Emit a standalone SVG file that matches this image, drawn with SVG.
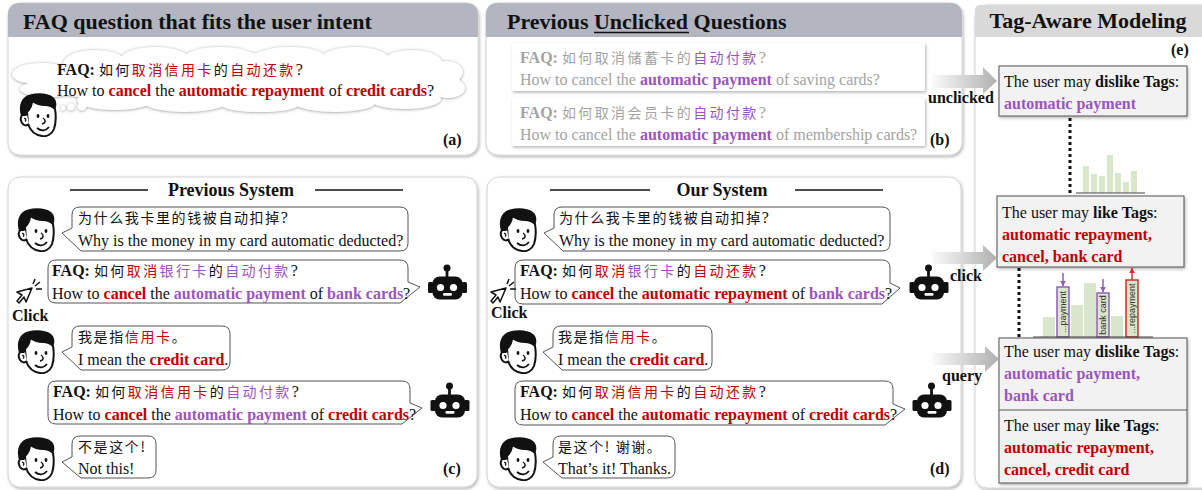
<svg xmlns="http://www.w3.org/2000/svg" width="1202" height="490" viewBox="0 0 1202 490">
<defs>
<style>
.t{font-family:"Liberation Serif","Times New Roman",serif;font-size:16px;fill:#111}
.h{font-family:"Liberation Serif","Times New Roman",serif;font-size:22px;font-weight:bold;fill:#111}
.st{font-family:"Liberation Serif","Times New Roman",serif;font-size:18px;font-weight:bold;fill:#111}
.b{font-weight:bold}
.r{fill:#c00000;font-weight:bold}
.p{fill:#9b55bd;font-weight:bold}
.g{fill:#a3a3a3}
.zq{font-family:"Noto Sans CJK SC",sans-serif;font-size:14px;letter-spacing:2.4px}
.zu{font-family:"Noto Sans CJK SC",sans-serif;font-size:14px;letter-spacing:1.6px}
.zr{fill:#c00000}
.zp{fill:#9b55bd}
.panel{fill:#fff;stroke:#d4d4d4;stroke-width:1}
.hdr{fill:#b3b5c0}
.bub{fill:#fff;stroke:#555;stroke-width:1}
.tag{fill:#f2f2f2;stroke:#555;stroke-width:1}
.bar{fill:#d8e6cc}
.dot{stroke:#111;stroke-width:3;stroke-dasharray:3 3;fill:none}
.lbl{font-family:"Liberation Sans",Arial,sans-serif;font-size:9px;fill:#333}
.rule{stroke:#111;stroke-width:1.6}
.blk{fill:url(#ag)}
</style>
<filter id="sh" x="-5%" y="-5%" width="112%" height="115%">
  <feDropShadow dx="1" dy="1.5" stdDeviation="1.6" flood-color="#000" flood-opacity="0.3"/>
</filter>
<filter id="cl" x="-5%" y="-20%" width="110%" height="140%">
  <feDropShadow dx="0" dy="0.5" stdDeviation="1.8" flood-color="#666" flood-opacity="0.7"/>
</filter>
<linearGradient id="ag" x1="0" y1="0" x2="1" y2="0">
  <stop offset="0" stop-color="#fafafa"/>
  <stop offset="1" stop-color="#b0b0b0"/>
</linearGradient>
<marker id="mp" viewBox="0 0 10 10" refX="9" refY="5" markerWidth="4" markerHeight="4" orient="auto">
  <path d="M0,0 L10,5 L0,10 Z" fill="#8e5fb5"/>
</marker>
<marker id="mr" viewBox="0 0 10 10" refX="9" refY="5" markerWidth="4" markerHeight="4" orient="auto">
  <path d="M0,0 L10,5 L0,10 Z" fill="#d03030"/>
</marker>
<!-- cartoon user head -->
<symbol id="face" viewBox="0 0 40 44">
  <path d="M9,19 C12,16 14,12 14,8 C17,10 22,12 27,12 C30,12 34,13 37,16 C38,22 38,30 36,36 C34,41 29,44 24,43 C17,42 12,37 10,31 Z" fill="#fff" stroke="#111" stroke-width="2"/>
  <path d="M9,22 C4,19 1,25 4,30 C6,33 9,33 11,31" fill="#fff" stroke="#111" stroke-width="2"/>
  <path d="M6,25.5 C8,25 8.5,27.5 7,28.5" fill="none" stroke="#111" stroke-width="1.3"/>
  <path d="M3,23 C0,13 3,4 12,1.5 C20,-0.5 30,0 35,4 C39,7 39,13 37,17 C34,13 30,12 27,12 C22,12 17,10 14,8 C14,12 12,16 9,19 L8,23 Z" fill="#111"/>
  <ellipse cx="20" cy="23" rx="1.4" ry="2.1" fill="#111"/>
  <ellipse cx="30" cy="23" rx="1.4" ry="2.1" fill="#111"/>
  <path d="M25,25 C28,27 28,30 24,31" fill="none" stroke="#111" stroke-width="1.5"/>
  <path d="M19,35 C23,38.5 28,38 31,34" fill="none" stroke="#111" stroke-width="1.8"/>
</symbol>
<!-- chatbot head -->
<symbol id="bot" viewBox="0 0 39 38">
  <circle cx="19" cy="4" r="3.5" fill="#111"/>
  <rect x="17.6" y="5" width="2.8" height="9" fill="#111"/>
  <rect x="4.5" y="12.5" width="30" height="23" rx="7" fill="#111"/>
  <rect x="0" y="18" width="5.5" height="11" rx="1.5" fill="#111"/>
  <rect x="33.5" y="18" width="5.5" height="11" rx="1.5" fill="#111"/>
  <circle cx="12.5" cy="23.5" r="3.6" fill="#fff"/>
  <circle cx="25.5" cy="23.5" r="3.6" fill="#fff"/>
  <rect x="15" y="29" width="9" height="2.8" rx="1.2" fill="#fff"/>
</symbol>
<!-- mouse pointer with click rays -->
<g id="cursor">
  <path d="M18,11 L3,15 L8,18 L3,24 L5,26 L10,20 L12,25 Z" fill="#fff" stroke="#111" stroke-width="1.5" stroke-linejoin="round"/>
  <path d="M19,7 L21,2 M21,9 L26,5 M22,12 L28,12" stroke="#111" stroke-width="1.5" fill="none"/>
</g>
<g id="cloud">
  <ellipse cx="245" cy="80" rx="215" ry="27"/>
  <ellipse cx="95" cy="64" rx="32" ry="14"/>
  <ellipse cx="155" cy="59" rx="34" ry="12"/>
  <ellipse cx="220" cy="58" rx="36" ry="11"/>
  <ellipse cx="290" cy="58" rx="36" ry="11"/>
  <ellipse cx="355" cy="59" rx="34" ry="12"/>
  <ellipse cx="412" cy="63" rx="30" ry="13"/>
  <ellipse cx="445" cy="72" rx="18" ry="11"/>
  <ellipse cx="42" cy="74" rx="30" ry="11"/>
  <ellipse cx="48" cy="89" rx="28" ry="8"/>
  <ellipse cx="115" cy="100" rx="38" ry="10"/>
  <ellipse cx="185" cy="103" rx="40" ry="9"/>
  <ellipse cx="260" cy="104" rx="40" ry="8"/>
  <ellipse cx="335" cy="103" rx="40" ry="9"/>
  <ellipse cx="405" cy="99" rx="36" ry="10"/>
  <ellipse cx="448" cy="88" rx="17" ry="10"/>
  <circle cx="63" cy="108" r="2.5"/>
  <circle cx="71" cy="107" r="3.5"/>
  <circle cx="82" cy="106" r="4.5"/>
</g>
</defs>

<rect width="1202" height="490" fill="#fff"/>

<!-- (a) FAQ that fits the intent -->
<g id="panel-a">
  <rect class="panel" x="8" y="3" width="470" height="152" rx="12" filter="url(#sh)"/>
  <path class="hdr" d="M8,37 V15 Q8,3 20,3 H466 Q478,3 478,15 V37 Z"/>
  <text class="h" x="23" y="29">FAQ question that fits the user intent</text>
  <use href="#cloud" fill="#fff" filter="url(#cl)"/>
  <text class="t" x="57" y="75"><tspan class="b">FAQ:</tspan> <tspan class="zq">如何<tspan class="zr">取消信用卡</tspan>的<tspan class="zr">自动还款</tspan></tspan>?</text>
  <text class="t" x="57" y="96">How to <tspan class="r">cancel</tspan> the <tspan class="r">automatic repayment</tspan> of <tspan class="r">credit cards</tspan>?</text>
  <use href="#face" x="18" y="93" width="40" height="44"/>
  <text class="t b" x="443" y="145">(a)</text>
</g>

<!-- (b) previously unclicked FAQs -->
<g id="panel-b">
  <rect class="panel" x="486" y="3" width="476" height="152" rx="12" filter="url(#sh)"/>
  <path class="hdr" d="M486,37 V15 Q486,3 498,3 H950 Q962,3 962,15 V37 Z"/>
  <text class="h" x="507" y="29">Previous Unclicked Questions</text>
  <line x1="594" y1="32.5" x2="689" y2="32.5" stroke="#111" stroke-width="1.5"/>
  <rect x="512" y="43" width="413" height="48" fill="#fff" filter="url(#sh)"/>
  <text class="t g" x="520" y="63"><tspan class="b">FAQ:</tspan> <tspan class="zq">如何取消储蓄卡的<tspan class="zp">自动付款</tspan></tspan>?</text>
  <text class="t g" x="520" y="85">How to cancel the <tspan class="p">automatic payment</tspan> of saving cards?</text>
  <rect x="512" y="98" width="413" height="48" fill="#fff" filter="url(#sh)"/>
  <text class="t g" x="520" y="118"><tspan class="b">FAQ:</tspan> <tspan class="zq">如何取消会员卡的<tspan class="zp">自动付款</tspan></tspan>?</text>
  <text class="t g" x="520" y="140">How to cancel the <tspan class="p">automatic payment</tspan> of membership cards?</text>
  <text class="t b" x="930" y="145">(b)</text>
</g>

<!-- (e) tag-aware modeling -->
<g id="panel-e">
  <rect class="panel" x="975" y="5" width="240" height="483" rx="12" filter="url(#sh)"/>
  <path d="M975,37 V10 Q975,5 980,5 H1202 V37 Z" fill="#d9d9d9"/>
  <text class="h" x="1088" y="28" text-anchor="middle">Tag-Aware Modeling</text>
  <text class="t b" x="1171" y="55">(e)</text>
</g>

<g id="hist-top">
  <rect class="bar" x="1083" y="166" width="6" height="27"/>
  <rect class="bar" x="1091" y="174" width="6" height="19"/>
  <rect class="bar" x="1099" y="176" width="6" height="17"/>
  <rect class="bar" x="1107" y="155" width="6" height="38"/>
  <rect class="bar" x="1115" y="173" width="6" height="20"/>
  <rect class="bar" x="1123" y="182" width="6" height="11"/>
  <rect class="bar" x="1131" y="171" width="6" height="22"/>
  <line x1="1076" y1="193" x2="1145" y2="193" stroke="#444" stroke-width="1"/>
</g>

<g id="hist-bottom">
  <rect class="bar" x="1043" y="317" width="12" height="20"/>
  <rect class="bar" x="1057" y="287" width="12" height="50" stroke="#8e5fb5" stroke-width="1.5"/>
  <rect class="bar" x="1071" y="305" width="12" height="32"/>
  <rect class="bar" x="1084" y="283" width="12" height="54"/>
  <rect class="bar" x="1097" y="293" width="12" height="44" stroke="#8e5fb5" stroke-width="1.5"/>
  <rect class="bar" x="1111" y="316" width="12" height="21"/>
  <rect class="bar" x="1126" y="280" width="12" height="57" stroke="#d03030" stroke-width="1.5"/>
  <text class="lbl" transform="translate(1063,312) rotate(-90)" text-anchor="middle" dy="3">...payment</text>
  <text class="lbl" transform="translate(1103,315) rotate(-90)" text-anchor="middle" dy="3">bank card</text>
  <text class="lbl" transform="translate(1132,308.5) rotate(-90)" text-anchor="middle" dy="3" font-size="8.5">...repayment</text>
  <line x1="1033" y1="337" x2="1153" y2="337" stroke="#444" stroke-width="1"/>
</g>

<g id="tag-dislike-1">
  <rect class="tag" x="999" y="66" width="188" height="50" filter="url(#sh)"/>
  <text class="t" x="1004" y="87">The user may <tspan class="b">dislike Tags</tspan>:</text>
  <text class="t p" x="1004" y="109">automatic payment</text>
</g>
<g id="tag-like-1">
  <rect class="tag" x="997" y="196" width="187" height="71" filter="url(#sh)"/>
  <text class="t" x="1002" y="218">The user may <tspan class="b">like Tags</tspan>:</text>
  <text class="t r" x="1002" y="240">automatic repayment,</text>
  <text class="t r" x="1002" y="262">cancel, bank card</text>
</g>
<g id="tag-pair-2">
  <rect class="tag" x="999" y="338" width="188" height="145" filter="url(#sh)"/>
  <line x1="999" y1="410" x2="1187" y2="410" stroke="#555" stroke-width="1"/>
  <text class="t" x="1004" y="357">The user may <tspan class="b">dislike Tags</tspan>:</text>
  <text class="t p" x="1004" y="379">automatic payment,</text>
  <text class="t p" x="1004" y="401">bank card</text>
  <text class="t" x="1004" y="431">The user may <tspan class="b">like Tags</tspan>:</text>
  <text class="t r" x="1004" y="453">automatic repayment,</text>
  <text class="t r" x="1004" y="475">cancel, credit card</text>
</g>

<!-- (c) previous system dialogue -->
<g id="panel-c">
  <rect class="panel" x="8" y="177" width="469" height="310" rx="12" filter="url(#sh)"/>
  <line class="rule" x1="70" y1="190" x2="148" y2="190"/>
  <line class="rule" x1="315" y1="190" x2="403" y2="190"/>
  <text class="st" x="231" y="196" text-anchor="middle">Previous System</text>
  <text class="t b" x="443" y="474">(c)</text>
</g>
<g id="c-user-1">
  <use href="#face" x="16" y="208" width="40" height="44"/>
  <path class="bub" d="M80,207 H400 Q408,207 408,215 V243 Q408,251 400,251 H81 L62,233 L72,228 V215 Q72,207 80,207 Z"/>
  <text class="t" x="78" y="223"><tspan class="zu">为什么我卡里的钱被自动扣掉</tspan>?</text>
  <text class="t" x="78" y="246">Why is the money in my card automatic deducted?</text>
</g>
<g id="c-bot-1">
  <path class="bub" d="M56,260 H400 Q408,260 408,268 V282 L420,287 L400,303 H56 Q48,303 48,295 V268 Q48,260 56,260 Z"/>
  <text class="t" x="52" y="276"><tspan class="b">FAQ:</tspan> <tspan class="zq">如何<tspan class="zr">取消</tspan><tspan class="zp">银行卡</tspan>的<tspan class="zp">自动付款</tspan></tspan>?</text>
  <text class="t" x="52" y="299">How to <tspan class="r">cancel</tspan> the <tspan class="p">automatic payment</tspan> of <tspan class="p">bank cards</tspan>?</text>
  <use href="#bot" x="428" y="264" width="39" height="38"/>
  <use href="#cursor" x="14" y="277"/>
  <text class="t b" x="12" y="321" font-size="13">Click</text>
</g>
<g id="c-user-2">
  <use href="#face" x="16" y="330" width="40" height="44"/>
  <path class="bub" d="M80,326 H222 Q230,326 230,334 V362 Q230,370 222,370 H81 L62,352 L72,347 V334 Q72,326 80,326 Z"/>
  <text class="t" x="78" y="342"><tspan class="zu">我是指<tspan class="zr">信用卡</tspan>。</tspan></text>
  <text class="t" x="78" y="365">I mean the <tspan class="r">credit card</tspan>.</text>
</g>
<g id="c-bot-2">
  <path class="bub" d="M56,381 H402 Q410,381 410,389 V403 L422,408 L402,424 H56 Q48,424 48,416 V389 Q48,381 56,381 Z"/>
  <text class="t" x="53" y="397"><tspan class="b">FAQ:</tspan> <tspan class="zq">如何<tspan class="zr">取消信用卡</tspan>的<tspan class="zp">自动付款</tspan></tspan>?</text>
  <text class="t" x="53" y="420">How to <tspan class="r">cancel</tspan> the <tspan class="p">automatic payment</tspan> of <tspan class="r">credit cards</tspan>?</text>
  <use href="#bot" x="430" y="382" width="40" height="38"/>
</g>
<g id="c-user-3">
  <use href="#face" x="16" y="437" width="40" height="44"/>
  <path class="bub" d="M80,436 H148 Q156,436 156,444 V470 Q156,478 148,478 H81 L62,462 L72,457 V444 Q72,436 80,436 Z"/>
  <text class="t" x="78" y="452"><tspan class="zu">不是这个!</tspan></text>
  <text class="t" x="78" y="474">Not this!</text>
</g>

<!-- (d) our system dialogue -->
<g id="panel-d">
  <rect class="panel" x="487" y="177" width="474" height="310" rx="12" filter="url(#sh)"/>
  <line class="rule" x1="550" y1="190" x2="650" y2="190"/>
  <line class="rule" x1="795" y1="190" x2="883" y2="190"/>
  <text class="st" x="722" y="196" text-anchor="middle">Our System</text>
  <text class="t b" x="930" y="474">(d)</text>
</g>
<g id="d-user-1">
  <use href="#face" x="498" y="208" width="40" height="44"/>
  <path class="bub" d="M562,207 H882 Q890,207 890,215 V243 Q890,251 882,251 H563 L544,233 L554,228 V215 Q554,207 562,207 Z"/>
  <text class="t" x="559" y="223"><tspan class="zu">为什么我卡里的钱被自动扣掉</tspan>?</text>
  <text class="t" x="559" y="246">Why is the money in my card automatic deducted?</text>
</g>
<g id="d-bot-1">
  <path class="bub" d="M523,260 H882 Q890,260 890,268 V283 L900,288 L882,304 H523 Q515,304 515,296 V268 Q515,260 523,260 Z"/>
  <text class="t" x="520" y="276"><tspan class="b">FAQ:</tspan> <tspan class="zq">如何<tspan class="zr">取消</tspan><tspan class="zp">银行卡</tspan>的<tspan class="zr">自动还款</tspan></tspan>?</text>
  <text class="t" x="520" y="299">How to <tspan class="r">cancel</tspan> the <tspan class="r">automatic repayment</tspan> of <tspan class="p">bank cards</tspan>?</text>
  <use href="#bot" x="909" y="264" width="40" height="38"/>
  <use href="#cursor" x="488" y="277"/>
  <text class="t b" x="491" y="318" font-size="13">Click</text>
</g>
<g id="d-user-2">
  <use href="#face" x="498" y="330" width="40" height="44"/>
  <path class="bub" d="M561,326 H704 Q712,326 712,334 V362 Q712,370 704,370 H562 L543,352 L553,347 V334 Q553,326 561,326 Z"/>
  <text class="t" x="558" y="342"><tspan class="zu">我是指<tspan class="zr">信用卡</tspan>。</tspan></text>
  <text class="t" x="558" y="365">I mean the <tspan class="r">credit card</tspan>.</text>
</g>
<g id="d-bot-2">
  <path class="bub" d="M523,381 H885 Q893,381 893,389 V404 L905,409 L885,425 H523 Q515,425 515,417 V389 Q515,381 523,381 Z"/>
  <text class="t" x="520" y="397"><tspan class="b">FAQ:</tspan> <tspan class="zq">如何<tspan class="zr">取消信用卡</tspan>的<tspan class="zr">自动还款</tspan></tspan>?</text>
  <text class="t" x="520" y="420">How to <tspan class="r">cancel</tspan> the <tspan class="r">automatic repayment</tspan> of <tspan class="r">credit cards</tspan>?</text>
  <use href="#bot" x="912" y="382" width="40" height="38"/>
</g>
<g id="d-user-3">
  <use href="#face" x="498" y="437" width="40" height="44"/>
  <path class="bub" d="M561,436 H667 Q675,436 675,444 V470 Q675,478 667,478 H562 L543,462 L553,457 V444 Q553,436 561,436 Z"/>
  <text class="t" x="558" y="452"><tspan class="zu">是这个! 谢谢。</tspan></text>
  <text class="t" x="558" y="474">That’s it! Thanks.</text>
</g>

<!-- connectors -->
<g id="connectors">
  <polygon class="blk" points="932,75 983,75 983,67 997,81 983,94 983,88 932,88"/>
  <text class="t b" x="928" y="103">unclicked</text>
  <polygon class="blk" points="932,252 983,252 983,245 997,258 983,271 983,264 932,264"/>
  <text class="t b" x="950" y="281">click</text>
  <polygon class="blk" points="932,353 985,353 985,346 999,359 985,372 985,365 932,365"/>
  <text class="t b" x="942" y="381">query</text>
  <line class="dot" x1="1070" y1="118" x2="1070" y2="195"/>
  <line class="dot" x1="1019" y1="268" x2="1019" y2="337"/>
  <line x1="1063" y1="273" x2="1063" y2="286" stroke="#8e5fb5" stroke-width="1.5" marker-end="url(#mp)"/>
  <line x1="1103" y1="279" x2="1103" y2="292" stroke="#8e5fb5" stroke-width="1.5" marker-end="url(#mp)"/>
  <line x1="1132" y1="280" x2="1132" y2="268" stroke="#d03030" stroke-width="1.5" marker-end="url(#mr)"/>
</g>
</svg>
